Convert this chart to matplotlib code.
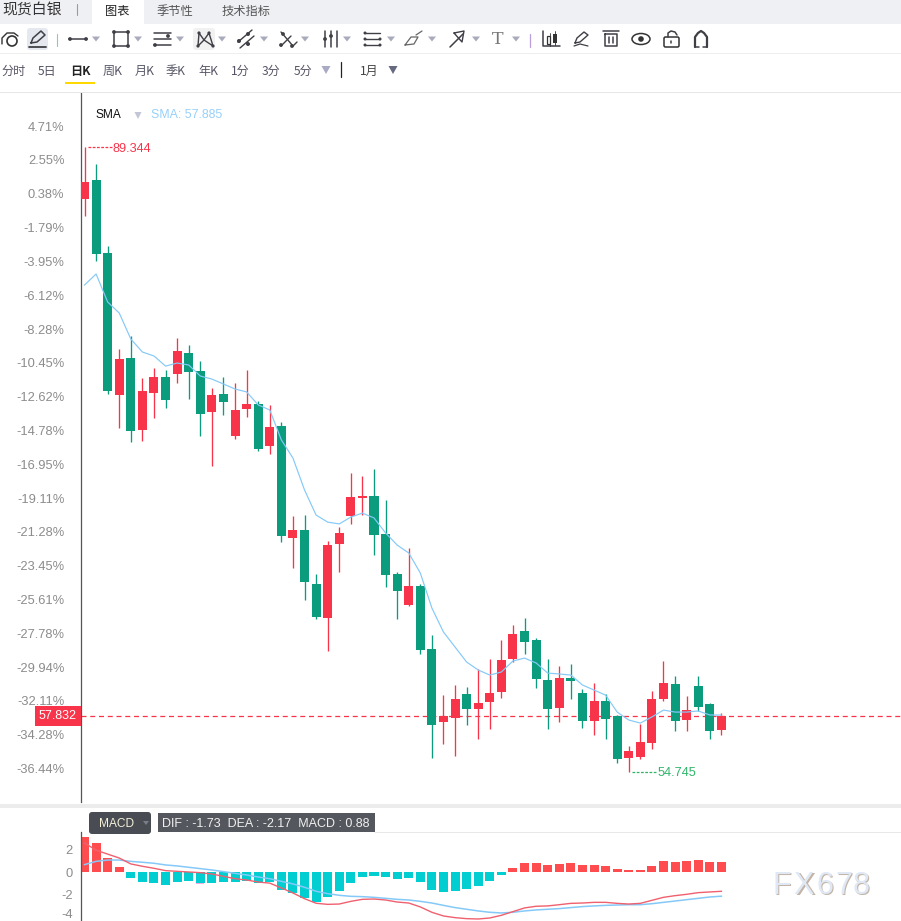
import numpy as np
import matplotlib
matplotlib.use('Agg')
import matplotlib.pyplot as plt
from matplotlib.patches import Rectangle, FancyBboxPatch, Circle, Ellipse, Polygon

# Daily candles, spot silver
opens = [86.46, 87.52, 83.47, 75.61, 77.66, 73.67, 75.72, 76.61, 76.77, 77.94, 76.94, 74.67, 75.66, 73.34,
         74.83, 75.11, 72.79, 73.89, 67.69, 68.13, 65.14, 63.26, 67.36, 68.91, 69.91, 70.02, 67.91, 65.70,
         63.98, 65.03, 61.54, 57.50, 57.72, 59.05, 58.22, 58.61, 59.16, 60.99, 62.54, 62.04, 59.83, 58.27,
         59.94, 59.11, 57.56, 58.66, 57.83, 55.51, 55.56, 56.34, 58.77, 59.60, 57.61, 59.49, 58.50, 57.06]
highs = [89.344, 88.40, 83.86, 78.16, 78.88, 76.55, 77.10, 76.99, 78.77, 78.38, 77.49, 76.00, 76.61, 76.27,
         76.99, 75.28, 75.06, 74.11, 68.91, 68.96, 65.70, 67.52, 68.30, 71.29, 71.12, 71.51, 69.79, 65.81,
         67.14, 65.14, 62.32, 58.99, 59.55, 59.44, 60.44, 60.99, 62.04, 62.87, 63.26, 62.15, 60.99, 60.60,
         60.71, 59.33, 59.66, 59.05, 57.89, 56.17, 57.39, 59.22, 60.88, 60.05, 58.94, 60.05, 58.55, 58.00]
lows = [85.52, 83.05, 75.66, 73.78, 73.01, 73.06, 74.34, 74.89, 76.27, 75.39, 73.34, 71.68, 74.50, 73.17,
        74.39, 72.51, 72.34, 67.47, 66.03, 64.26, 63.20, 61.43, 65.81, 68.47, 68.96, 66.75, 64.98, 63.20,
        63.92, 61.27, 55.51, 56.28, 55.62, 57.33, 56.56, 57.11, 58.83, 60.82, 61.27, 59.38, 57.11, 57.50,
        58.77, 57.17, 56.78, 56.56, 55.23, 54.745, 55.45, 56.00, 58.66, 57.00, 57.00, 58.11, 56.56, 56.78]
closes = [87.40, 83.42, 75.83, 77.60, 73.62, 75.83, 76.61, 75.33, 78.05, 76.88, 74.56, 75.61, 75.22, 74.78,
          75.11, 72.62, 73.84, 67.80, 68.13, 65.25, 63.31, 67.30, 67.97, 69.96, 70.02, 67.86, 65.64, 64.76,
          65.03, 61.49, 57.33, 57.83, 58.77, 58.22, 58.55, 59.11, 60.93, 62.37, 61.93, 59.88, 58.22, 59.94,
          59.77, 57.56, 58.66, 57.67, 55.45, 55.89, 56.39, 58.77, 59.66, 57.56, 58.16, 58.33, 57.00, 57.832]
sma = [81.70, 82.31, 80.76, 80.15, 78.71, 77.99, 77.77, 77.21, 77.38, 77.27, 76.66, 76.49, 76.22, 75.94,
       75.78, 75.06, 74.78, 73.12, 72.12, 70.35, 68.96, 68.57, 68.47, 68.85, 69.07, 68.80, 67.97, 67.30,
       66.86, 65.75, 63.81, 62.48, 61.65, 60.82, 60.38, 60.10, 60.27, 60.88, 61.04, 60.77, 60.21, 60.16,
       60.10, 59.55, 59.27, 58.99, 58.05, 57.61, 57.44, 57.78, 58.16, 58.05, 58.05, 58.11, 57.89, 57.885]

# MACD panel
macd_hist = [3.16, 2.63, 1.28, 0.48, -0.51, -0.87, -0.96, -1.13, -0.87, -0.78, -0.99, -0.96, -0.87, -0.87,
             -0.78, -0.96, -0.87, -1.58, -1.85, -2.30, -2.66, -2.21, -1.67, -0.96, -0.42, -0.33, -0.42, -0.60,
             -0.51, -0.87, -1.58, -1.76, -1.67, -1.49, -1.22, -0.78, -0.24, 0.39, 0.84, 0.84, 0.66, 0.75,
             0.84, 0.66, 0.66, 0.57, 0.30, 0.21, 0.21, 0.57, 1.01, 0.93, 1.01, 1.10, 0.93, 0.88]
dif = [2.60, 1.95, 1.60, 1.25, 0.72, 0.51, 0.33, 0.12, 0.06, 0.00, -0.06, -0.18, -0.39, -0.60,
       -0.72, -0.90, -1.00, -1.43, -1.88, -2.39, -2.80, -2.90, -2.87, -2.63, -2.45, -2.42, -2.51, -2.69,
       -2.78, -3.13, -3.61, -3.94, -4.09, -4.18, -4.21, -4.12, -3.88, -3.55, -3.22, -3.07, -3.04, -2.93,
       -2.81, -2.78, -2.72, -2.72, -2.81, -2.87, -2.81, -2.54, -2.27, -2.12, -2.00, -1.85, -1.79, -1.73]
dea = [0.66, 0.95, 1.07, 1.07, 0.95, 0.87, 0.78, 0.63, 0.54, 0.42, 0.30, 0.18, 0.03, -0.12,
       -0.27, -0.45, -0.60, -0.84, -1.07, -1.37, -1.73, -1.94, -2.09, -2.18, -2.21, -2.27, -2.36, -2.45,
       -2.51, -2.63, -2.78, -2.99, -3.19, -3.34, -3.49, -3.61, -3.67, -3.61, -3.49, -3.40, -3.34, -3.28,
       -3.19, -3.10, -3.04, -2.99, -2.96, -2.93, -2.93, -2.84, -2.72, -2.60, -2.48, -2.36, -2.24, -2.17]

pct_ticks = [4.71, 2.55, 0.38, -1.79, -3.95, -6.12, -8.28, -10.45, -12.62, -14.78, -16.95, -19.11, -21.28,
             -23.45, -25.61, -27.78, -29.94, -32.11, -34.28, -36.44]
base_price = 86.42
macd_ticks = [2, 0, -2, -4]

tabs = ['图表', '季节性', '技术指标']
periods = ['分时', '5日', '日K', '周K', '月K', '季K', '年K', '1分', '3分', '5分']

RED = '#f7344a'
GREEN = '#0b9c7e'
BLUE = '#85c9f8'
CJK = ['Noto Sans CJK SC', 'DejaVu Sans']
LATIN = 'Liberation Sans'

W, H = 901, 921
fig = plt.figure(figsize=(W / 100, H / 100), dpi=100, facecolor='white')


def make_axes(left, top, right, bottom):
    ax = fig.add_axes([left / W, 1 - bottom / H, (right - left) / W, (bottom - top) / H])
    for s in ax.spines.values():
        s.set_visible(False)
    ax.spines['left'].set_visible(True)
    ax.spines['left'].set_color('#555555')
    ax.spines['left'].set_linewidth(0.9)
    ax.set_xticks([])
    ax.tick_params(axis='y', length=0, labelcolor='#8c8c8c')
    return ax


# candles are 11.58 px apart, the first one sits 3.5 px right of the axis
step = 11.58
x_lim = (-3.5 / step, (W - 84.5) / step)
idx = np.arange(len(closes))

ax = make_axes(81, 93, W, 802)
ax.set_xlim(*x_lim)
ax.set_ylim(53.07, 92.334)
ax.set_yticks([base_price * (1 + p / 100) for p in pct_ticks])
ax.set_yticklabels([f'{p:.2f}%' for p in pct_ticks], family=LATIN, fontsize=9.3)
ax.tick_params(axis='y', pad=12)

for i in idx:
    color = RED if closes[i] >= opens[i] else GREEN
    ax.vlines(i, lows[i], highs[i], color=color, lw=0.95, zorder=2)
    ax.bar(i, abs(closes[i] - opens[i]), bottom=min(opens[i], closes[i]), width=0.78, color=color, lw=0, zorder=3)

ax.plot(idx, sma, color=BLUE, lw=0.85, zorder=4)

# last price line and its flag on the axis
last = closes[-1]
ax.axhline(last, color=RED, lw=0.9, dashes=(4, 3), zorder=1)
ax.annotate(f'{last:.3f}', xy=(0, last), xycoords=ax.get_yaxis_transform(), xytext=(-3, 0),
            textcoords='offset points', ha='right', va='center', color='white', family=LATIN, fontsize=9.0,
            annotation_clip=False,
            bbox=dict(boxstyle='square,pad=0.3', fc=RED, ec='none'), zorder=6)

# highest and lowest price markers
i_hi = int(np.argmax(highs))
i_lo = int(np.argmin(lows))
ax.plot([i_hi + 0.3, i_hi + 2.4], [highs[i_hi]] * 2, color=RED, lw=0.9, dashes=(2.2, 1.2))
ax.annotate(f'{highs[i_hi]:.3f}', xy=(i_hi + 2.45, highs[i_hi]), xytext=(0, -1.2), textcoords='offset points',
            color=RED, family=LATIN, fontsize=9.2, va='center')
ax.plot([i_lo + 0.3, i_lo + 2.4], [lows[i_lo]] * 2, color='#2fb56a', lw=0.9, dashes=(2.2, 1.2))
ax.annotate(f'{lows[i_lo]:.3f}', xy=(i_lo + 2.45, lows[i_lo]), xytext=(0, -1.2), textcoords='offset points',
            color='#2fb56a', family=LATIN, fontsize=9.2, va='center')

# MACD panel
ax2 = make_axes(81, 832, W, H)
ax2.set_xlim(*x_lim)
ax2.set_ylim(-4.39, 3.58)
ax2.set_yticks(macd_ticks)
ax2.set_yticklabels([])
# the lowest label sits right at the bottom edge, so it gets nudged up
for t in macd_ticks:
    ax2.annotate(str(t), xy=(0, t), xycoords=ax2.get_yaxis_transform(), xytext=(-5.8, 1.0 if t == -4 else -1.3),
                 textcoords='offset points', ha='right', va='center', color='#8c8c8c', family=LATIN,
                 fontsize=9.3, annotation_clip=False)
ax2.bar(idx, macd_hist, width=0.78, lw=0, zorder=2, color=['#ff4d4f' if v >= 0 else '#00ced1' for v in macd_hist])
# thin pink edge showing under the falling bars
falling = [i for i in idx if macd_hist[i] <= -0.6]
ax2.bar(falling, [-0.06] * len(falling), bottom=[macd_hist[i] for i in falling], width=0.7, lw=0, color='#f5a8e2', zorder=1)
ax2.plot(idx, dea, color=BLUE, lw=1.1, zorder=3)
ax2.plot(idx, dif, color='#f0606e', lw=1.0, zorder=4)

# page chrome: everything below is drawn in pixel coordinates
ui = fig.add_axes([0, 0, 1, 1], facecolor='none')
ui.set_xlim(0, W)
ui.set_ylim(H, 0)
ui.axis('off')


def rect(x0, y0, x1, y1, color, z=1):
    ui.add_patch(Rectangle((x0, y0), x1 - x0, y1 - y0, fc=color, ec='none', zorder=z))


def lines(points, color='#3f3f46', lw=1.0):
    xs, ys = zip(*points)
    ui.plot(xs, ys, color=color, lw=lw, solid_capstyle='round', zorder=3)


def dots(points, color='#3f3f46', r=1.9):
    for p in points:
        ui.add_patch(Circle(p, r, fc=color, ec='none', zorder=4))


def tri(x, y=39, color='#a9abbc', w=4, h=5):
    ui.add_patch(Polygon([(x - w, y - h / 2), (x + w, y - h / 2), (x, y + h / 2)], fc=color, ec='none', zorder=3))


# tab strip
rect(0, 0, W, 24, '#eff0f4')
rect(92, 0, 144, 24, 'white', 2)
ui.text(2, 11, '现货白银', family=CJK, fontsize=10.7, color='#333333', va='center', zorder=3)
lines([(77, 4), (77, 15)], '#9a9aa2', 0.8)
for label, cx in zip(tabs, [117, 175, 246]):
    ui.text(cx, 11, label, family=CJK, fontsize=8.8, ha='center', va='center', zorder=3,
            color='#222222' if label == '图表' else '#555555')

# drawing toolbar
rect(0, 53, W, 54, '#eeeeee')
ui.add_patch(FancyBboxPatch((27, 28), 21, 22, boxstyle='round,pad=0,rounding_size=3', fc='#e6e8ef', ec='none', zorder=1))
ui.add_patch(FancyBboxPatch((193, 28), 22, 22, boxstyle='round,pad=0,rounding_size=3', fc='#f1f1f1', ec='none', zorder=1))

ui.add_patch(Circle((12, 41), 5, fc='none', ec='#333333', lw=1.2, zorder=3))
lines([(2, 44), (2, 38), (7, 33), (14, 33), (18, 36)], '#333333', 1.0)
lines([(29, 47), (46, 47)], lw=1.3)
lines([(31, 43), (33, 38), (41, 31), (45, 35), (37, 42), (31, 43)], lw=1.1)
lines([(57, 34), (57, 46)], '#8fc9a8', 0.8)

lines([(69, 39), (87, 39)], lw=1.1)
dots([(70, 39), (86, 39)])
tri(96)
lines([(114, 32), (128, 32), (128, 46), (114, 46), (114, 32)], lw=1.1)
dots([(114, 32), (128, 32), (128, 46), (114, 46)])
tri(138)
for yy in [33, 39, 45]:
    lines([(154, yy), (171, yy)], lw=1.1)
dots([(168, 36), (155, 45)])
tri(180)
lines([(198, 46), (199, 33), (204, 40), (209, 33), (213, 46), (204, 40), (198, 46)], lw=1.0)
dots([(198, 46), (199, 33), (209, 33), (213, 46)], r=1.6)
tri(222)
lines([(238, 42), (252, 30)], lw=1.0)
lines([(240, 48), (254, 36)], lw=1.0)
dots([(239, 41), (248, 34), (248, 44)], r=2.0)
tri(264)
lines([(281, 32), (293, 46)], lw=1.0)
lines([(281, 46), (291, 36)], lw=1.0)
lines([(293, 46), (297, 42)], lw=1.0)
dots([(283, 34), (281, 45), (292, 46)], r=1.9)
tri(305)
for xx in [325, 331, 337]:
    lines([(xx, 31), (xx, 47)], lw=1.1)
dots([(325, 39), (331, 36)], r=1.9)
tri(347)
for yy in [33, 39, 45]:
    lines([(365, yy), (380, yy)], lw=1.0)
dots([(365, 33), (365, 39), (365, 45), (380, 39), (380, 45)], r=1.5)
tri(391)
lines([(405, 45), (411, 37), (418, 37), (414, 44), (405, 45)], '#666666', 0.9)
lines([(416, 35), (422, 31)], '#666666', 0.9)
tri(432)
lines([(450, 47), (463, 34)], lw=1.1)
lines([(454, 33), (464, 31), (462, 42), (454, 33)], lw=1.0)
tri(476)
ui.text(498, 39, 'T', family='DejaVu Serif', fontsize=12.5, color='#777777', ha='center', va='center', zorder=3)
tri(516)
lines([(530, 34), (530, 47)], '#b79fd8', 0.9)

lines([(543, 31), (543, 46), (560, 46)], lw=1.1)
ui.add_patch(Rectangle((547, 36), 3, 8, fc='white', ec='#333333', lw=0.9, zorder=3))
ui.add_patch(Rectangle((553, 34), 4, 9, fc='#333333', ec='none', zorder=3))
lines([(550, 33), (550, 46)], '#333333', 0.6)
lines([(555, 31), (555, 45)], '#333333', 0.6)
lines([(575, 43), (577, 38), (584, 32), (588, 35), (580, 42), (575, 43)], lw=1.0)
lines([(574, 46), (580, 44), (588, 46)], lw=0.9)
lines([(603, 31), (619, 31)], lw=1.1)
lines([(605, 34), (605, 46), (617, 46), (617, 34), (605, 34)], lw=1.1)
lines([(609, 37), (609, 43)], lw=1.1)
lines([(613, 37), (613, 43)], lw=1.1)
ui.add_patch(Ellipse((641, 39), 18, 11, fc='none', ec='#333333', lw=1.1, zorder=3))
ui.add_patch(Circle((641, 39), 2.8, fc='#333333', ec='none', zorder=3))
ui.add_patch(FancyBboxPatch((664, 37), 15, 10, boxstyle='round,pad=0,rounding_size=1.5', fc='none', ec='#333333', lw=1.1, zorder=3))
lines([(668, 37), (668, 33), (671, 31), (675, 32), (677, 35)], lw=1.1)
lines([(671, 41), (671, 43)], lw=1.1)
lines([(695, 47), (695, 37), (698, 33), (701, 31), (704, 33), (707, 37), (707, 47)], lw=1.6)
lines([(695, 47), (699, 47)], lw=1.1)
lines([(703, 47), (707, 47)], lw=1.1)

# period selector row
rect(0, 92, W, 93, '#e6e6e6')
for label, cx in zip(periods, [14, 47, 80, 113, 145, 176, 208, 240, 271, 303]):
    active = label == '日K'
    ui.text(cx, 71, label, family=CJK, fontsize=8.7, ha='center', va='center', zorder=3,
            fontweight='bold' if active else 'normal', color='#222222' if active else '#555566')
rect(65, 82, 95, 84, '#ffd800', 3)
tri(326, 70, '#a9abc4', 4.5, 8)
lines([(341, 62), (341, 77)], '#222222', 0.9)
ui.text(369, 71, '1月', family=CJK, fontsize=8.7, ha='center', va='center', color='#444444', zorder=3)
tri(393, 70, '#666a80', 4.5, 8)

# indicator legend
ui.text(95, 115, 'SMA', family=LATIN, fontsize=8.6, va='center', color='#111111')
tri(138, 115.5, '#c3c6d6', 3.5, 7)
ui.text(151, 115, f'SMA: {sma[-1]:.3f}', family=LATIN, fontsize=8.9, va='center', color='#97d0fa')

# MACD header
rect(0, 804, W, 808, '#ececec')
rect(375, 832, W, 833, '#e8e8e8')
ui.add_patch(FancyBboxPatch((89, 812), 62, 22, boxstyle='round,pad=0,rounding_size=3', fc='#4a4c54', ec='none', zorder=3))
ui.text(99, 824, 'MACD', family=LATIN, fontsize=8.6, va='center', color='#f4f1d8', zorder=4)
tri(146, 823, '#7b7d88', 3, 4)
rect(158, 813, 375, 832, '#55575e', 3)
ui.text(162, 824, f'DIF : {dif[-1]:.2f}  DEA : {dea[-1]:.2f}  MACD : {macd_hist[-1]:.2f}', family=LATIN,
        fontsize=9.0, va='center', color='#f0f0f0', zorder=4)

# watermark
for ch, cx in zip('FX678', [782, 804, 825, 844, 861]):
    ui.text(cx + 1, 886.5, ch, family=LATIN, fontsize=22, ha='center', va='center', color='#c3b4a6', zorder=5)
    ui.text(cx, 885.5, ch, family=LATIN, fontsize=22, ha='center', va='center', color='#dfe8f4', zorder=6)

fig.savefig('out.png', dpi=100, facecolor='white')
